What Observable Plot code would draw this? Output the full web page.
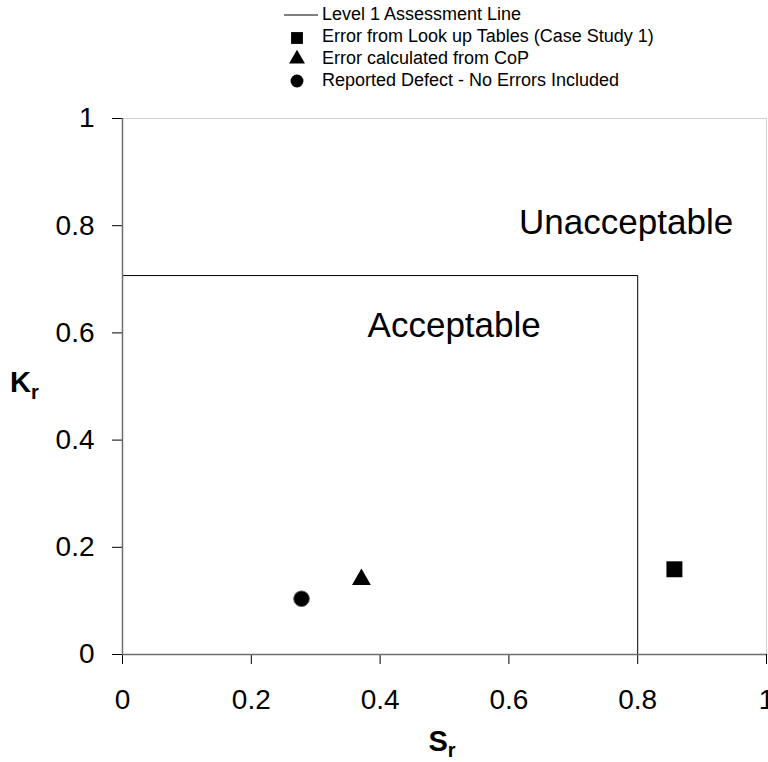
<!DOCTYPE html>
<html>
<head>
<meta charset="utf-8">
<script src="https://cdn.jsdelivr.net/npm/d3@7"></script>
<script src="https://cdn.jsdelivr.net/npm/@observablehq/plot@0.6"></script>
<style>
  body { margin: 0; background: #fff; font-family: "Liberation Sans", Arial, sans-serif; }
  #wrap { position: relative; width: 768px; height: 762px; overflow: hidden; }
  #legend { position: absolute; left: 280px; top: 4px; font-size: 18px; color: #000; }
  #legend .row { display: flex; align-items: center; height: 21.8px; white-space: nowrap; }
  #legend svg { width: 40px; height: 18px; margin-right: 2px; flex: none; }
</style>
</head>
<body>
<div id="wrap">
  <div id="chart"></div>
  <div id="legend"></div>
</div>
<script>
// Series (S_r, K_r)
const seriesNames = [
  "Error from Look up Tables (Case Study 1)",
  "Error calculated from CoP",
  "Reported Defect - No Errors Included"
];
const seriesSymbols = ["square", "triangle", "circle"];
const seriesSr = [0.857, 0.371, 0.278];
const seriesKr = [0.159, 0.140, 0.104];

// Level 1 assessment line
const lineName = "Level 1 Assessment Line";
const lineSr = [0, 0.8, 0.8];
const lineKr = [0.707, 0.707, 0];

// Region labels
const regionNames = ["Unacceptable", "Acceptable"];
const regionSr = [0.782, 0.515];
const regionKr = [0.805, 0.613];

// Ticks
const xTicks = [0, 0.2, 0.4, 0.6, 0.8, 1];
const yTicks = [0, 0.2, 0.4, 0.6, 0.8, 1];

const points = seriesNames.map((n, i) => ({name: n, symbol: seriesSymbols[i], x: seriesSr[i], y: seriesKr[i]}));
const linePts = lineSr.map((x, i) => ({x, y: lineKr[i]}));
const regions = regionNames.map((n, i) => ({name: n, x: regionSr[i], y: regionKr[i]}));
const fmt = d => String(+d.toFixed(1));

const chart = Plot.plot({
  width: 768,
  height: 762,
  marginLeft: 122,
  marginRight: 2,
  marginTop: 118,
  marginBottom: 108,
  style: {fontFamily: "Liberation Sans, Arial, sans-serif", color: "#000", background: "#fff"},
  x: {domain: [0, 1]},
  y: {domain: [0, 1]},
  marks: [
    Plot.ruleY([1], {stroke: "#d0d0d0", strokeWidth: 1}),
    Plot.ruleX([1], {stroke: "#d0d0d0", strokeWidth: 1}),
    Plot.line(linePts, {x: "x", y: "y", stroke: "#000", strokeWidth: 1}),
    Plot.axisX({ticks: xTicks, tickFormat: fmt, tickSize: 10, tickPadding: 25, fontSize: 28, stroke: "#000", label: null}),
    Plot.axisY({ticks: yTicks, tickFormat: fmt, tickSize: 10, tickPadding: 18, fontSize: 28, stroke: "#000", label: null}),
    Plot.ruleY([0], {stroke: "#6e6e6e", strokeWidth: 1.5}),
    Plot.ruleX([0], {stroke: "#6e6e6e", strokeWidth: 1.5}),
    Plot.text(regions, {x: "x", y: "y", text: "name", fontSize: 35, fill: "#000"}),
    Plot.dot(points.filter(d => d.symbol === "square"), {x: "x", y: "y", symbol: "square", r: 9, fill: "#000", stroke: "none"}),
    Plot.dot(points.filter(d => d.symbol === "triangle"), {x: "x", y: "y", symbol: "triangle", r: 7, fill: "#000", stroke: "none"}),
    Plot.dot(points.filter(d => d.symbol === "circle"), {x: "x", y: "y", symbol: "circle", r: 7.8, fill: "#000", stroke: "#555", strokeWidth: 1})
  ]
});
document.getElementById("chart").appendChild(chart);

// Axis titles with subscripts
const svg = d3.select(chart);
const xt = svg.append("text").attr("x", 442).attr("y", 751).attr("text-anchor", "middle")
  .attr("font-size", 29).attr("font-weight", "bold").attr("fill", "#000");
xt.append("tspan").text("S");
xt.append("tspan").attr("font-size", 20).attr("dy", 6).text("r");
const yt = svg.append("text").attr("x", 10).attr("y", 392).attr("text-anchor", "start")
  .attr("font-size", 29).attr("font-weight", "bold").attr("fill", "#000");
yt.append("tspan").text("K");
yt.append("tspan").attr("font-size", 20).attr("dy", 7).text("r");

// Legend
const legend = d3.select("#legend");
const lr = legend.append("div").attr("class", "row");
lr.append("svg").append("line").attr("x1", 4).attr("x2", 38).attr("y1", 9).attr("y2", 9).attr("stroke", "#000").attr("stroke-width", 1);
lr.append("span").text(lineName);
points.forEach(p => {
  const row = legend.append("div").attr("class", "row");
  const s = row.append("svg");
  const sym = p.symbol === "square" ? d3.symbolSquare : p.symbol === "triangle" ? d3.symbolTriangle : d3.symbolCircle;
  const size = p.symbol === "square" ? 140 : p.symbol === "triangle" ? 110 : 130;
  s.append("path").attr("d", d3.symbol(sym, size)()).attr("transform", "translate(17,10)").attr("fill", "#000");
  row.append("span").text(p.name);
});
</script>
</body>
</html>
